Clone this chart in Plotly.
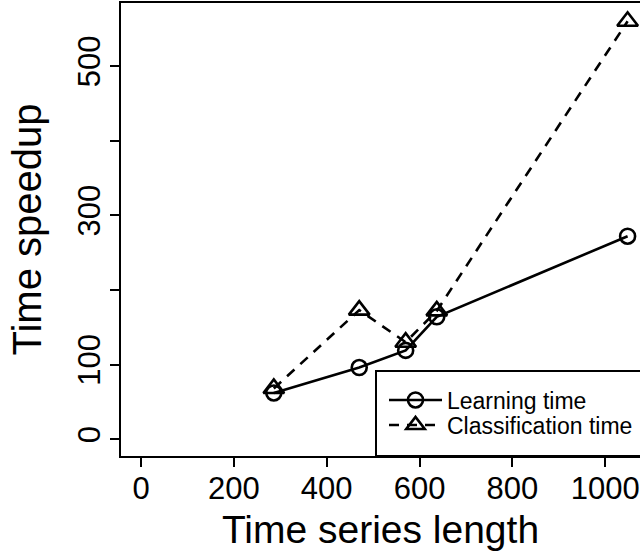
import plotly.graph_objects as go

series_length = [286, 470, 570, 637, 1048]
learning_speedup = [62, 96, 119, 164, 272]
classification_speedup = [68, 173, 130, 172, 560]

x_ticks = [0, 200, 400, 600, 800, 1000]
y_ticks = [0, 100, 200, 300, 400, 500]
y_ticktext = ["0", "100", "", "300", "", "500"]

FONT = "Liberation Sans, Arial, Helvetica, sans-serif"

fig = go.Figure()
fig.add_trace(go.Scatter(
    x=series_length, y=learning_speedup, mode="lines+markers",
    name="Learning time", legend="legend",
    line=dict(color="black", width=2.6),
    marker=dict(symbol="circle-open", size=15, color="black", line=dict(width=2.6, color="black")),
    cliponaxis=False,
))
fig.add_trace(go.Scatter(
    x=series_length, y=classification_speedup, mode="lines+markers",
    name="Classification time", legend="legend2",
    line=dict(color="black", width=2.6, dash="10px,8px"),
    marker=dict(symbol="triangle-up-open", size=18, color="black", line=dict(width=2.6, color="black")),
    cliponaxis=False,
))

# legend box (bottom-right, extends beyond the cropped right edge)
fig.add_shape(type="rect", xref="paper", yref="paper",
              x0=(376 - 121) / 519, x1=1.2, y0=0, y1=(456 - 371) / 453,
              line=dict(color="black", width=2), fillcolor="white", layer="below")

legend_common = dict(
    x=(384 - 121) / 519, xanchor="left", yanchor="middle",
    bgcolor="rgba(0,0,0,0)", borderwidth=0,
    font=dict(size=23, family=FONT, color="black"),
    itemwidth=53, tracegroupgap=0,
)

fig.update_layout(
    width=640, height=557,
    margin=dict(l=121, r=0, t=3, b=101),
    paper_bgcolor="white", plot_bgcolor="white",
    font=dict(family=FONT, color="black"),
    showlegend=True,
    legend=dict(y=(456 - 400) / 453, **legend_common),
    legend2=dict(y=(456 - 425) / 453, **legend_common),
    xaxis=dict(
        range=[-43.1, 1074.7], tickvals=x_ticks,
        ticktext=[str(v) for v in x_ticks],
        showgrid=False, zeroline=False,
        showline=True, linecolor="black", linewidth=2, mirror=True,
        ticks="outside", ticklen=9, tickwidth=2, tickcolor="black",
        tickfont=dict(size=31, family=FONT),
        ticklabelstandoff=-5,
        title=dict(text="Time series length", font=dict(size=39, family=FONT), standoff=10),
    ),
    yaxis=dict(
        range=[-22.5, 584.5], tickvals=y_ticks, ticktext=y_ticktext,
        showgrid=False, zeroline=False,
        showline=True, linecolor="black", linewidth=2, mirror=False,
        ticks="outside", ticklen=9, tickwidth=2, tickcolor="black",
        tickangle=-90,
        tickfont=dict(size=31, family=FONT),
        ticklabelstandoff=-2,
        title=dict(text="Time speedup", font=dict(size=40, family=FONT), standoff=18),
    ),
)

fig.write_html("out.html")
